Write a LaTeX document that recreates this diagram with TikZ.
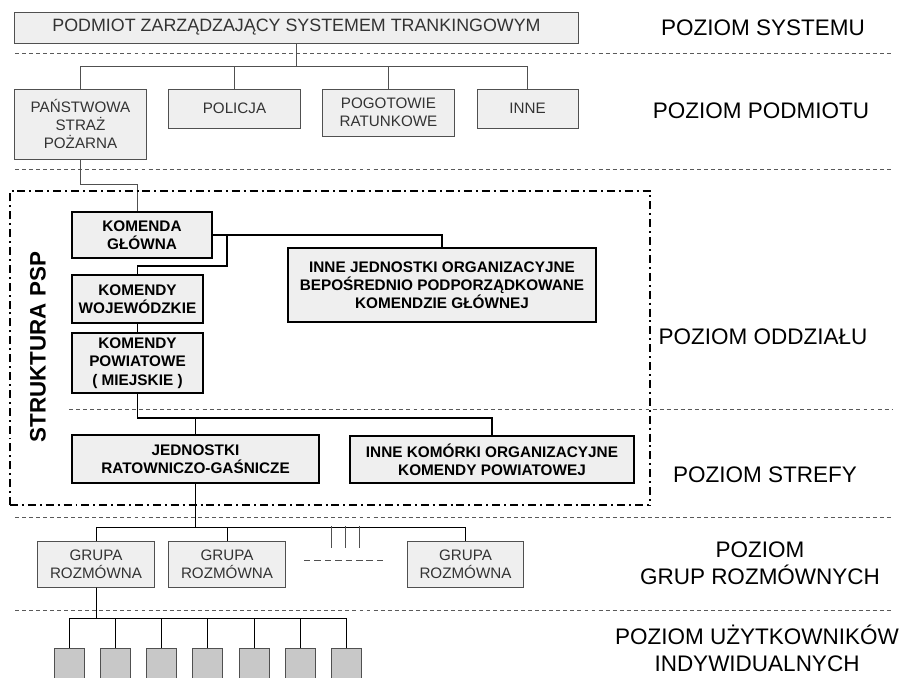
\documentclass[tikz,border=0pt]{standalone}
\usepackage{fontspec}
\setmainfont{Liberation Sans}
\definecolor{boxfill}{HTML}{EFEFEF}
\definecolor{userfill}{HTML}{C8C8C8}
\definecolor{linegray}{HTML}{505050}
\definecolor{dashgray}{HTML}{5A5A5A}
\tikzset{
  levelbox/.style={draw=linegray, fill=boxfill, line width=0.7pt, inner sep=0pt,
    align=center, text=black!80, font=\fontsize{10.8}{13}\selectfont},
  pspbox/.style={draw=black, fill=boxfill, line width=1.4pt, inner sep=0pt,
    align=center, font=\bfseries\fontsize{10.9}{13}\selectfont},
  userbox/.style={draw=linegray, fill=userfill, line width=0.7pt,
    minimum width=0.75cm, minimum height=1.3cm, inner sep=0pt},
  levelline/.style={draw=dashgray, line width=0.6pt, dash pattern=on 2.8pt off 2.2pt},
  leveltext/.style={align=center, font=\fontsize{16}{19}\selectfont},
  thinlink/.style={draw=linegray, line width=0.7pt},
  psplink/.style={draw=black, line width=1.4pt},
  frameline/.style={line width=1.4pt, dash pattern=on 5.7pt off 2.8pt on 1.4pt off 2.8pt},
}
\begin{document}
\begin{tikzpicture}[x=0.025cm, y=-0.025cm]
\useasboundingbox (0,0) rectangle (913,677);
\clip (0,0) rectangle (913,677);

% Drawing level lines
\foreach \ly in {53,169,517,610}
  \draw[levelline] (15,\ly) -- (893,\ly);
\draw[levelline] (69,409) -- (893,409);

% Marking level labels
\node[leveltext] (lvlsys) at (763,28) {POZIOM SYSTEMU};
\node[leveltext] (lvlpodm) at (761,110.5) {POZIOM PODMIOTU};
\node[leveltext] (lvloddz) at (763,337) {POZIOM ODDZIAŁU};
\node[leveltext] (lvlstref) at (765,475) {POZIOM STREFY};
\node[leveltext] (lvlgrup) at (760,563.5) {POZIOM\\GRUP ROZMÓWNYCH};
\node[leveltext] (lvluzyt) at (757,648) {POZIOM UŻYTKOWNIKÓW\\INDYWIDUALNYCH};

% Drawing system and subject boxes
\node[levelbox, minimum width=14.075cm, minimum height=0.775cm,
  font=\fontsize{12.7}{15}\selectfont] (zarz) at (296.5,27.5)
  {PODMIOT ZARZĄDZAJĄCY SYSTEMEM TRANKINGOWYM};
\node[levelbox, minimum width=3.275cm, minimum height=1.75cm] (psp) at (80.5,124)
  {PAŃSTWOWA\\STRAŻ\\POŻARNA};
\node[levelbox, minimum width=3.275cm, minimum height=0.975cm] (pol) at (234.5,108.5)
  {POLICJA};
\node[levelbox, minimum width=3.275cm, minimum height=1.175cm] (pog) at (388.5,112.5)
  {POGOTOWIE\\RATUNKOWE};
\node[levelbox, minimum width=2.525cm, minimum height=0.975cm] (inne) at (527.5,108.5)
  {INNE};
\foreach \n in {psp,pol,pog,inne}
  \draw[thinlink] (zarz.south) -- ++(0,23) -| (\n.north);

% Drawing PSP structure
\node[pspbox, minimum width=3.5cm, minimum height=1.15cm] (kg) at (142,235)
  {KOMENDA\\GŁÓWNA};
\node[pspbox, minimum width=3.275cm, minimum height=1.2cm] (kw) at (137.5,299)
  {KOMENDY\\WOJEWÓDZKIE};
\node[pspbox, minimum width=3.275cm, minimum height=1.5cm] (kp) at (137.5,363)
  {KOMENDY\\POWIATOWE\\( MIEJSKIE )};
\node[pspbox, minimum width=7.7cm, minimum height=1.85cm] (ij) at (442,285)
  {INNE JEDNOSTKI ORGANIZACYJNE\\BEPOŚREDNIO PODPORZĄDKOWANE\\KOMENDZIE GŁÓWNEJ};
\node[pspbox, minimum width=6.175cm, minimum height=1.2cm] (jrg) at (195.5,459)
  {JEDNOSTKI\\RATOWNICZO-GAŚNICZE};
\node[pspbox, minimum width=7.1cm, minimum height=1.175cm] (kom) at (492,459.5)
  {INNE KOMÓRKI ORGANIZACYJNE\\KOMENDY POWIATOWEJ};
\coordinate (kgsplit) at (227,235);

\draw[thinlink] (psp.south) -- ++(0,25) -| ([xshift=-0.125cm]kg.north);
\draw[psplink] (kg.east) -| (ij.north);
\draw[psplink] (kgsplit) -- ++(0,31) -| (kw.north);
\draw[psplink] (kw) -- (kp);
\draw[psplink] (kp.south) -- ++(0,24) -| (jrg.north);
\draw[psplink] (kp.south) -- ++(0,24) -| (kom.north);

% Drawing frame of PSP structure
\draw[frameline] (10,505) -- (10,191) -- (650,191) -- (650,505);
\draw[frameline, line width=2.1pt] (10,505) -- (650,505);
\node[rotate=90, font=\bfseries\fontsize{15.9}{19}\selectfont] (struk) at (38,347)
  {STRUKTURA PSP};

% Drawing talk groups
\node[levelbox, minimum width=2.9cm, minimum height=1.15cm] (grp1) at (96,564)
  {GRUPA\\ROZMÓWNA};
\node[levelbox, minimum width=2.9cm, minimum height=1.15cm] (grp2) at (227,564)
  {GRUPA\\ROZMÓWNA};
\node[levelbox, minimum width=2.875cm, minimum height=1.15cm] (grp3) at (465.5,564)
  {GRUPA\\ROZMÓWNA};
\foreach \n in {grp1,grp2,grp3}
  \draw[thinlink, draw=black] (jrg.south) -- ++(0,43) -| (\n.north);
\foreach \sx in {331,345,359}
  \draw[thinlink] (\sx,526) -- (\sx,548);
\draw[thinlink, dash pattern=on 4.6pt off 2.8pt] (304,560) -- (386,560);

% Drawing individual users
\foreach \i in {0,...,6}
  \node[userbox] (usr\i) at ({69.3+46.2*\i},674.5) {};
\foreach \i in {0,...,6}
  \draw[thinlink, draw=black] (grp1.south) -- ++(0,31) -| (usr\i.north);
\end{tikzpicture}
\end{document}
